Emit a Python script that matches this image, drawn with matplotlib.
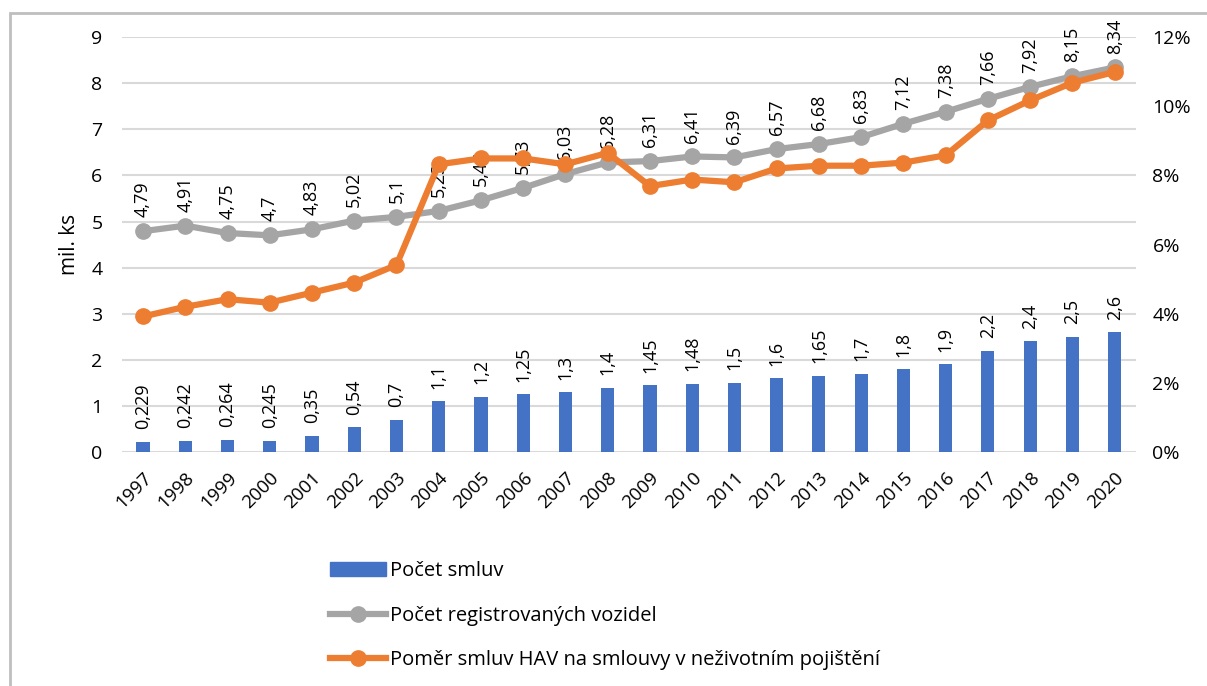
import numpy as np
import matplotlib.pyplot as plt
from matplotlib.patches import Rectangle
from matplotlib.lines import Line2D
from matplotlib.ticker import FuncFormatter

years = list(range(1997, 2021))
smlouvy = [0.229, 0.242, 0.264, 0.245, 0.35, 0.54, 0.7, 1.1, 1.2, 1.25, 1.3, 1.4,
           1.45, 1.48, 1.5, 1.6, 1.65, 1.7, 1.8, 1.9, 2.2, 2.4, 2.5, 2.6]
vozidla = [4.79, 4.91, 4.75, 4.7, 4.83, 5.02, 5.1, 5.23, 5.46, 5.73, 6.03, 6.28,
           6.31, 6.41, 6.39, 6.57, 6.68, 6.83, 7.12, 7.38, 7.66, 7.92, 8.15, 8.34]
pomer = [3.92, 4.20, 4.42, 4.32, 4.61, 4.90, 5.41, 8.32, 8.49, 8.49, 8.32, 8.65,
         7.69, 7.88, 7.80, 8.20, 8.28, 8.28, 8.37, 8.58, 9.59, 10.17, 10.68, 10.99]

labels = ['Počet smluv', 'Počet registrovaných vozidel',
          'Poměr smluv HAV na smlouvy v neživotním pojištění']

blue = '#4472C4'
gray = '#A5A5A5'
orange = '#ED7D31'
grid_c = '#D9D9D9'

plt.rcParams['font.family'] = ['Open Sans', 'DejaVu Sans']


def cz(v):
    return f'{v:g}'.replace('.', ',')


fig = plt.figure(figsize=(12.07, 6.86), dpi=100)
fig.patches.append(Rectangle((0.008, -0.1), 1.1, 1.081, transform=fig.transFigure,
                             fill=False, edgecolor='#BFBFBF', linewidth=2))

ax = fig.add_axes([0.101, 0.341, 0.840, 0.605])
x = np.arange(len(years))

ax.bar(x, smlouvy, width=0.31, color=blue, zorder=2)
ax.plot(x, vozidla, color=gray, lw=4.5, marker='o', ms=11, zorder=3)

ax.set_xlim(-0.5, len(years) - 0.5)
ax.set_ylim(0, 9)
ax.set_yticks(range(0, 10))
ax.yaxis.grid(True, color=grid_c, lw=1.5, zorder=0)
ax.set_axisbelow(True)
for s in ax.spines.values():
    s.set_visible(False)
ax.tick_params(length=0, labelsize=14, pad=14)
ax.set_xticks(x)
ax.set_xticklabels([str(y) for y in years], rotation=45, ha='right',
                   rotation_mode='anchor', fontsize=13.5)
ax.tick_params(axis='x', pad=12)
ax.set_ylabel('mil. ks', fontsize=15, labelpad=8)

for xi, v in zip(x, smlouvy):
    ax.annotate(cz(v), (xi, v), xytext=(0, 9), textcoords='offset points',
                rotation=90, ha='center', va='bottom', fontsize=13)
for xi, v in zip(x, vozidla):
    ax.annotate(cz(v), (xi, v), xytext=(0, 10), textcoords='offset points',
                rotation=90, ha='center', va='bottom', fontsize=13)

ax2 = ax.twinx()
ax2.plot(x, pomer, color=orange, lw=4.5, marker='o', ms=11, zorder=4)
ax2.set_ylim(0, 12)
ax2.set_yticks(range(0, 13, 2))
ax2.yaxis.set_major_formatter(FuncFormatter(lambda v, p: f'{v:.0f}%'))
for s in ax2.spines.values():
    s.set_visible(False)
ax2.tick_params(length=0, labelsize=14, pad=12)

handles = [Rectangle((0, 0), 1, 1, color=blue),
           Line2D([], [], color=gray, lw=4.5, marker='o', ms=11),
           Line2D([], [], color=orange, lw=4.5, marker='o', ms=11)]
fig.legend(handles, labels, loc='upper left', bbox_to_anchor=(0.258, 0.208),
           frameon=False, fontsize=14.5, labelspacing=1.2, handlelength=2.8,
           handletextpad=0.2)

fig.savefig('out.png', dpi=100)
